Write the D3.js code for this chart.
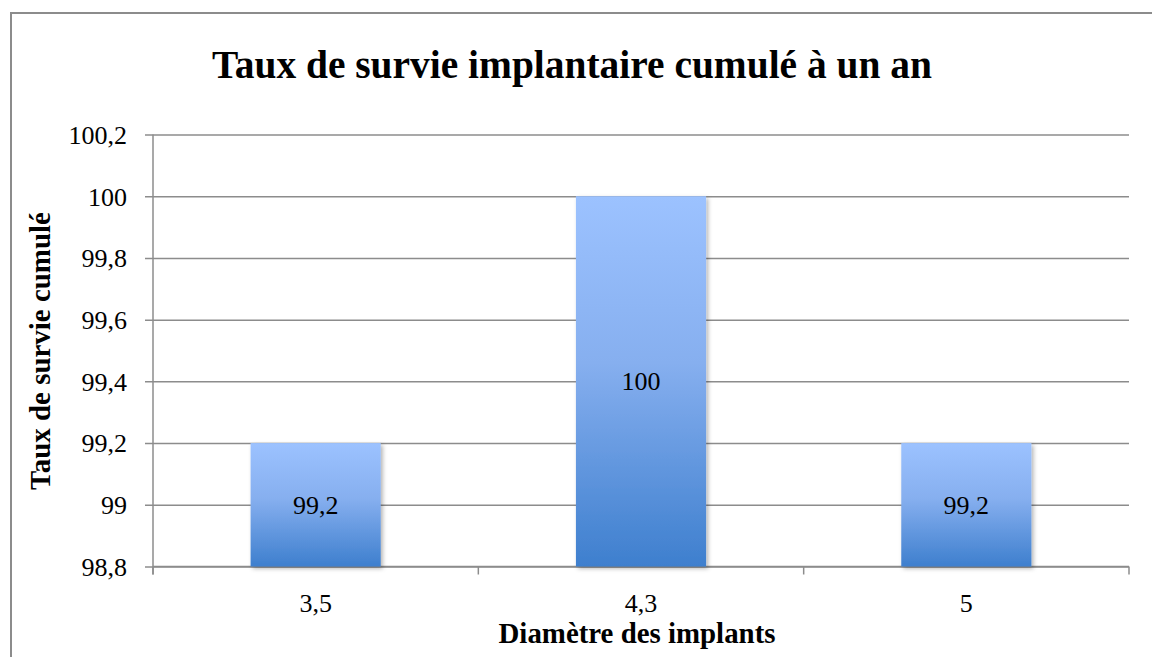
<!DOCTYPE html>
<html>
<head>
<meta charset="utf-8">
<script src="https://cdn.jsdelivr.net/npm/d3@7/dist/d3.min.js"></script>
<style>
  html, body { margin: 0; padding: 0; background: #fff; }
  svg { display: block; }
  text { font-family: "Liberation Serif", "DejaVu Serif", serif; fill: #000; }
</style>
</head>
<body>
<svg id="chart" width="1152" height="657"></svg>
<script>
// Cumulative one-year implant survival, by implant diameter
const categories = ["3,5", "4,3", "5"];
const survival = [99.2, 100, 99.2];
const yTicks = [98.8, 99.0, 99.2, 99.4, 99.6, 99.8, 100.0, 100.2];

const titleText = "Taux de survie implantaire cumulé à un an";
const xTitleText = "Diamètre des implants";
const yTitleText = "Taux de survie cumulé";

const W = 1152, H = 657;
const margin = { left: 153, right: 23, top: 134.5, bottom: 90.5 };
const plotW = W - margin.left - margin.right;
const plotH = H - margin.top - margin.bottom;
const FONT = "'Liberation Serif', 'DejaVu Serif', serif";
const NUM_SIZE = 26;

const fmt = v => (Math.round(v * 10) / 10).toString().replace(".", ",");

const svg = d3.select("#chart");

// Gradient and shadow for the bars
const defs = svg.append("defs");
const grad = defs.append("linearGradient")
  .attr("id", "barGrad")
  .attr("x1", 0).attr("y1", 0).attr("x2", 0).attr("y2", 1);
grad.append("stop").attr("offset", "0%").attr("stop-color", "#9cc2ff");
grad.append("stop").attr("offset", "45%").attr("stop-color", "#86afef");
grad.append("stop").attr("offset", "100%").attr("stop-color", "#3e7fce");

const shadow = defs.append("filter").attr("id", "barShadow")
  .attr("x", "-10%").attr("y", "-10%").attr("width", "125%").attr("height", "125%");
shadow.append("feDropShadow")
  .attr("dx", 2).attr("dy", 2).attr("stdDeviation", 2)
  .attr("flood-color", "#000").attr("flood-opacity", 0.3);

// Outer frame
svg.append("rect")
  .attr("x", 11).attr("y", 13)
  .attr("width", W + 50).attr("height", H + 50)
  .attr("fill", "none").attr("stroke", "#8c8c8c").attr("stroke-width", 2);

const x = d3.scaleBand()
  .domain(categories)
  .range([0, plotW])
  .paddingInner(0.6)
  .paddingOuter(0.3);

const y = d3.scaleLinear()
  .domain([98.8, 100.2])
  .range([plotH, 0]);

const g = svg.append("g").attr("transform", `translate(${margin.left},${margin.top})`);

// Horizontal gridlines with left tick marks
const yAxis = d3.axisLeft(y)
  .tickValues(yTicks)
  .tickSize(-plotW)
  .tickSizeOuter(0)
  .tickPadding(0)
  .tickFormat(fmt);

const yg = g.append("g").call(yAxis)
  .attr("font-family", FONT).attr("font-size", NUM_SIZE);
yg.select(".domain").remove();
yg.selectAll(".tick line")
  .attr("x1", -8)
  .attr("stroke", "#8c8c8c").attr("stroke-width", 1.5);
yg.selectAll(".tick text")
  .attr("x", -26)
  .attr("dy", "0.34em")
  .attr("fill", "#000");

// Vertical axis line
g.append("line")
  .attr("x1", 0).attr("x2", 0)
  .attr("y1", 0).attr("y2", plotH + 8)
  .attr("stroke", "#8c8c8c").attr("stroke-width", 1.5);

// Category axis with ticks at the band boundaries
const bandEdges = d3.range(categories.length + 1).map(i => i * plotW / categories.length);
g.append("line")
  .attr("x1", 0).attr("x2", plotW)
  .attr("y1", plotH).attr("y2", plotH)
  .attr("stroke", "#8c8c8c").attr("stroke-width", 1.5);
g.selectAll(".xtick")
  .data(bandEdges)
  .join("line")
  .attr("class", "xtick")
  .attr("x1", d => d).attr("x2", d => d)
  .attr("y1", plotH).attr("y2", plotH + 8)
  .attr("stroke", "#8c8c8c").attr("stroke-width", 1.5);

g.selectAll(".xlabel")
  .data(categories)
  .join("text")
  .attr("class", "xlabel")
  .attr("x", d => x(d) + x.bandwidth() / 2)
  .attr("y", plotH + 45)
  .attr("text-anchor", "middle")
  .style("font-size", NUM_SIZE + "px")
  .text(d => d);

// Bars
const data = categories.map((c, i) => ({ cat: c, value: survival[i] }));
g.selectAll(".bar")
  .data(data)
  .join("rect")
  .attr("class", "bar")
  .attr("x", d => x(d.cat))
  .attr("width", x.bandwidth())
  .attr("y", d => y(d.value))
  .attr("height", d => y(98.8) - y(d.value))
  .attr("fill", "url(#barGrad)")
  .attr("filter", "url(#barShadow)");

// Value labels in the middle of each bar
g.selectAll(".vlabel")
  .data(data)
  .join("text")
  .attr("class", "vlabel")
  .attr("x", d => x(d.cat) + x.bandwidth() / 2)
  .attr("y", d => (y(d.value) + y(98.8)) / 2)
  .attr("dy", "0.34em")
  .attr("text-anchor", "middle")
  .style("font-size", NUM_SIZE + "px")
  .text(d => fmt(d.value));

// Fit a bold text element to a target width
function fitText(sel, targetWidth, baseSize) {
  sel.style("font-size", baseSize + "px");
  const w = sel.node().getComputedTextLength();
  sel.style("font-size", (baseSize * targetWidth / w).toFixed(2) + "px");
}

const title = svg.append("text")
  .attr("x", 572).attr("y", 78)
  .attr("text-anchor", "middle")
  .style("font-weight", "bold")
  .text(titleText);
fitText(title, 720, 34);

const xTitle = svg.append("text")
  .attr("x", 637).attr("y", 643)
  .attr("text-anchor", "middle")
  .style("font-weight", "bold")
  .text(xTitleText);
fitText(xTitle, 277, 24);

const yTitle = svg.append("text")
  .attr("transform", "translate(50,351) rotate(-90)")
  .attr("text-anchor", "middle")
  .style("font-weight", "bold")
  .text(yTitleText);
fitText(yTitle, 278, 24);
</script>
</body>
</html>
